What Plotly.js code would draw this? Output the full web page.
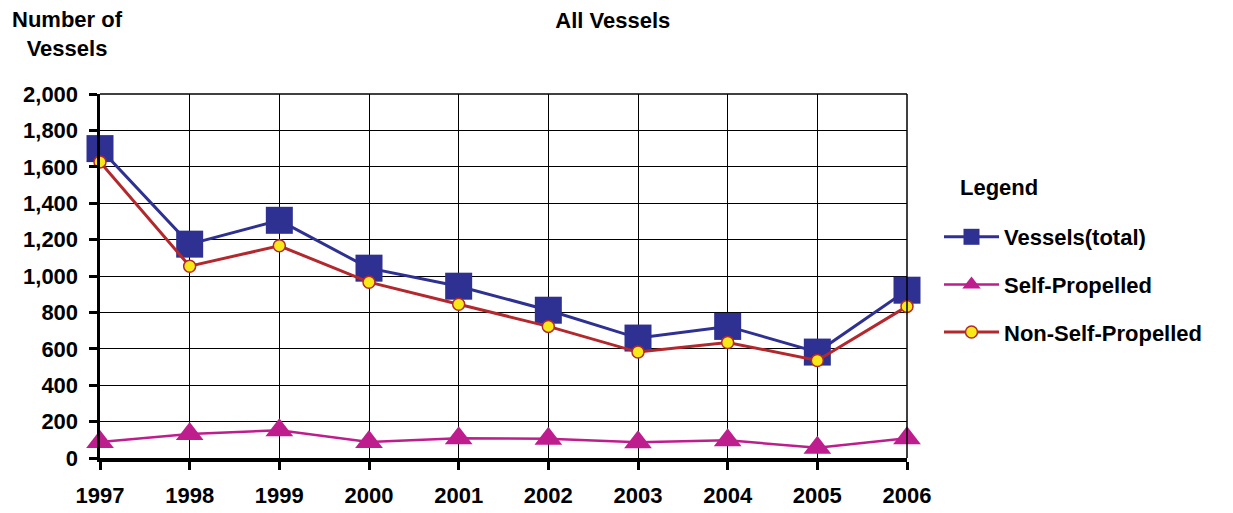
<!DOCTYPE html>
<html><head><meta charset="utf-8">
<script src="https://cdn.plot.ly/plotly-3.0.1.min.js"></script>
<style>html,body{margin:0;padding:0;background:#fff}#chart{width:1233px;height:513px}</style>
</head><body><div id="chart"></div>
<script>
const years = [1997,1998,1999,2000,2001,2002,2003,2004,2005,2006];
const vesselsTotal = [1700,1175,1306,1043,944,812,659,723,582,922];
const selfPropelled = [88,132,152,88,108,106,86,97,57,108];
const nonSelfPropelled = [1627,1054,1166,966,845,723,582,635,536,833];
const yTickVals = [0,200,400,600,800,1000,1200,1400,1600,1800,2000];
const yTickText = ["0","200","400","600","800","1,000","1,200","1,400","1,600","1,800","2,000"];

const FONT = "Liberation Sans, Arial, Helvetica, sans-serif";
const F = {family:FONT, size:22, weight:"bold", color:"#000"};
const traces = [
  {x:years, y:vesselsTotal, name:"Vessels(total)", mode:"lines+markers", cliponaxis:false, legendgroup:"a",
   line:{color:"#2E3192", width:3}, marker:{symbol:"square", size:27, color:"#2E3192"}},
  {x:years, y:selfPropelled, name:"Self-Propelled", mode:"lines+markers", cliponaxis:false, legendgroup:"b",
   line:{color:"#BE1E8D", width:2.5}, marker:{symbol:"triangle-up", size:24, color:"#BE1E8D"}},
  {x:years, y:nonSelfPropelled, name:"Non-Self-Propelled", mode:"lines+markers", cliponaxis:false, legendgroup:"c",
   line:{color:"#B3282D", width:3}, marker:{symbol:"circle", size:12, color:"#F7E817", line:{color:"#B3282D", width:1.5}}}
];
const layout = {
  width:1233, height:513,
  margin:{l:100, r:326, t:94, b:55},
  paper_bgcolor:"#fff", plot_bgcolor:"#fff",
  font:F,
  title:{text:"All Vessels", xref:"container", x:0.497, yref:"container", y:1-20/513, yanchor:"middle", font:F},
  xaxis:{range:[1997,2006], tickvals:years, ticktext:years.map(String), showgrid:true, gridcolor:"#000", gridwidth:1,
         showline:true, linecolor:"#000", linewidth:3.5, ticks:"outside", ticklen:8, tickwidth:3, tickcolor:"#000",
         ticklabelstandoff:7, zeroline:false, tickfont:F},
  yaxis:{range:[0,2000], tickvals:yTickVals, ticktext:yTickText, showgrid:true, gridcolor:"#000", gridwidth:1,
         showline:true, linecolor:"#000", linewidth:3.5, ticks:"outside", ticklen:8, tickwidth:3, tickcolor:"#000",
         ticklabelstandoff:6, zeroline:false, tickfont:F},
  shapes:[
    {type:"line", xref:"paper", yref:"paper", x0:0, x1:1, y0:1, y1:1, line:{color:"#000", width:1.5}},
    {type:"line", xref:"paper", yref:"paper", x0:1, x1:1, y0:0, y1:1, line:{color:"#000", width:1.5}}
  ],
  showlegend:true,
  legend:{x:939/1233, xref:"container", xanchor:"left", y:1-216/513, yref:"container", yanchor:"top",
          font:F, tracegroupgap:16, traceorder:"grouped", itemwidth:55, bgcolor:"rgba(0,0,0,0)"},
  annotations:[
    {text:"Number of<br>Vessels", xref:"paper", yref:"paper", x:-0.04, y:1+(94-34)/364, xanchor:"center", yanchor:"middle",
     showarrow:false, align:"center", font:F},
    {text:"Legend", xref:"paper", yref:"paper", x:(958-100)/807, y:1-(187-94)/364, xanchor:"left", yanchor:"middle",
     showarrow:false, font:F}
  ]
};
Plotly.newPlot("chart", traces, layout, {displayModeBar:false, staticPlot:true});
</script></body></html>
